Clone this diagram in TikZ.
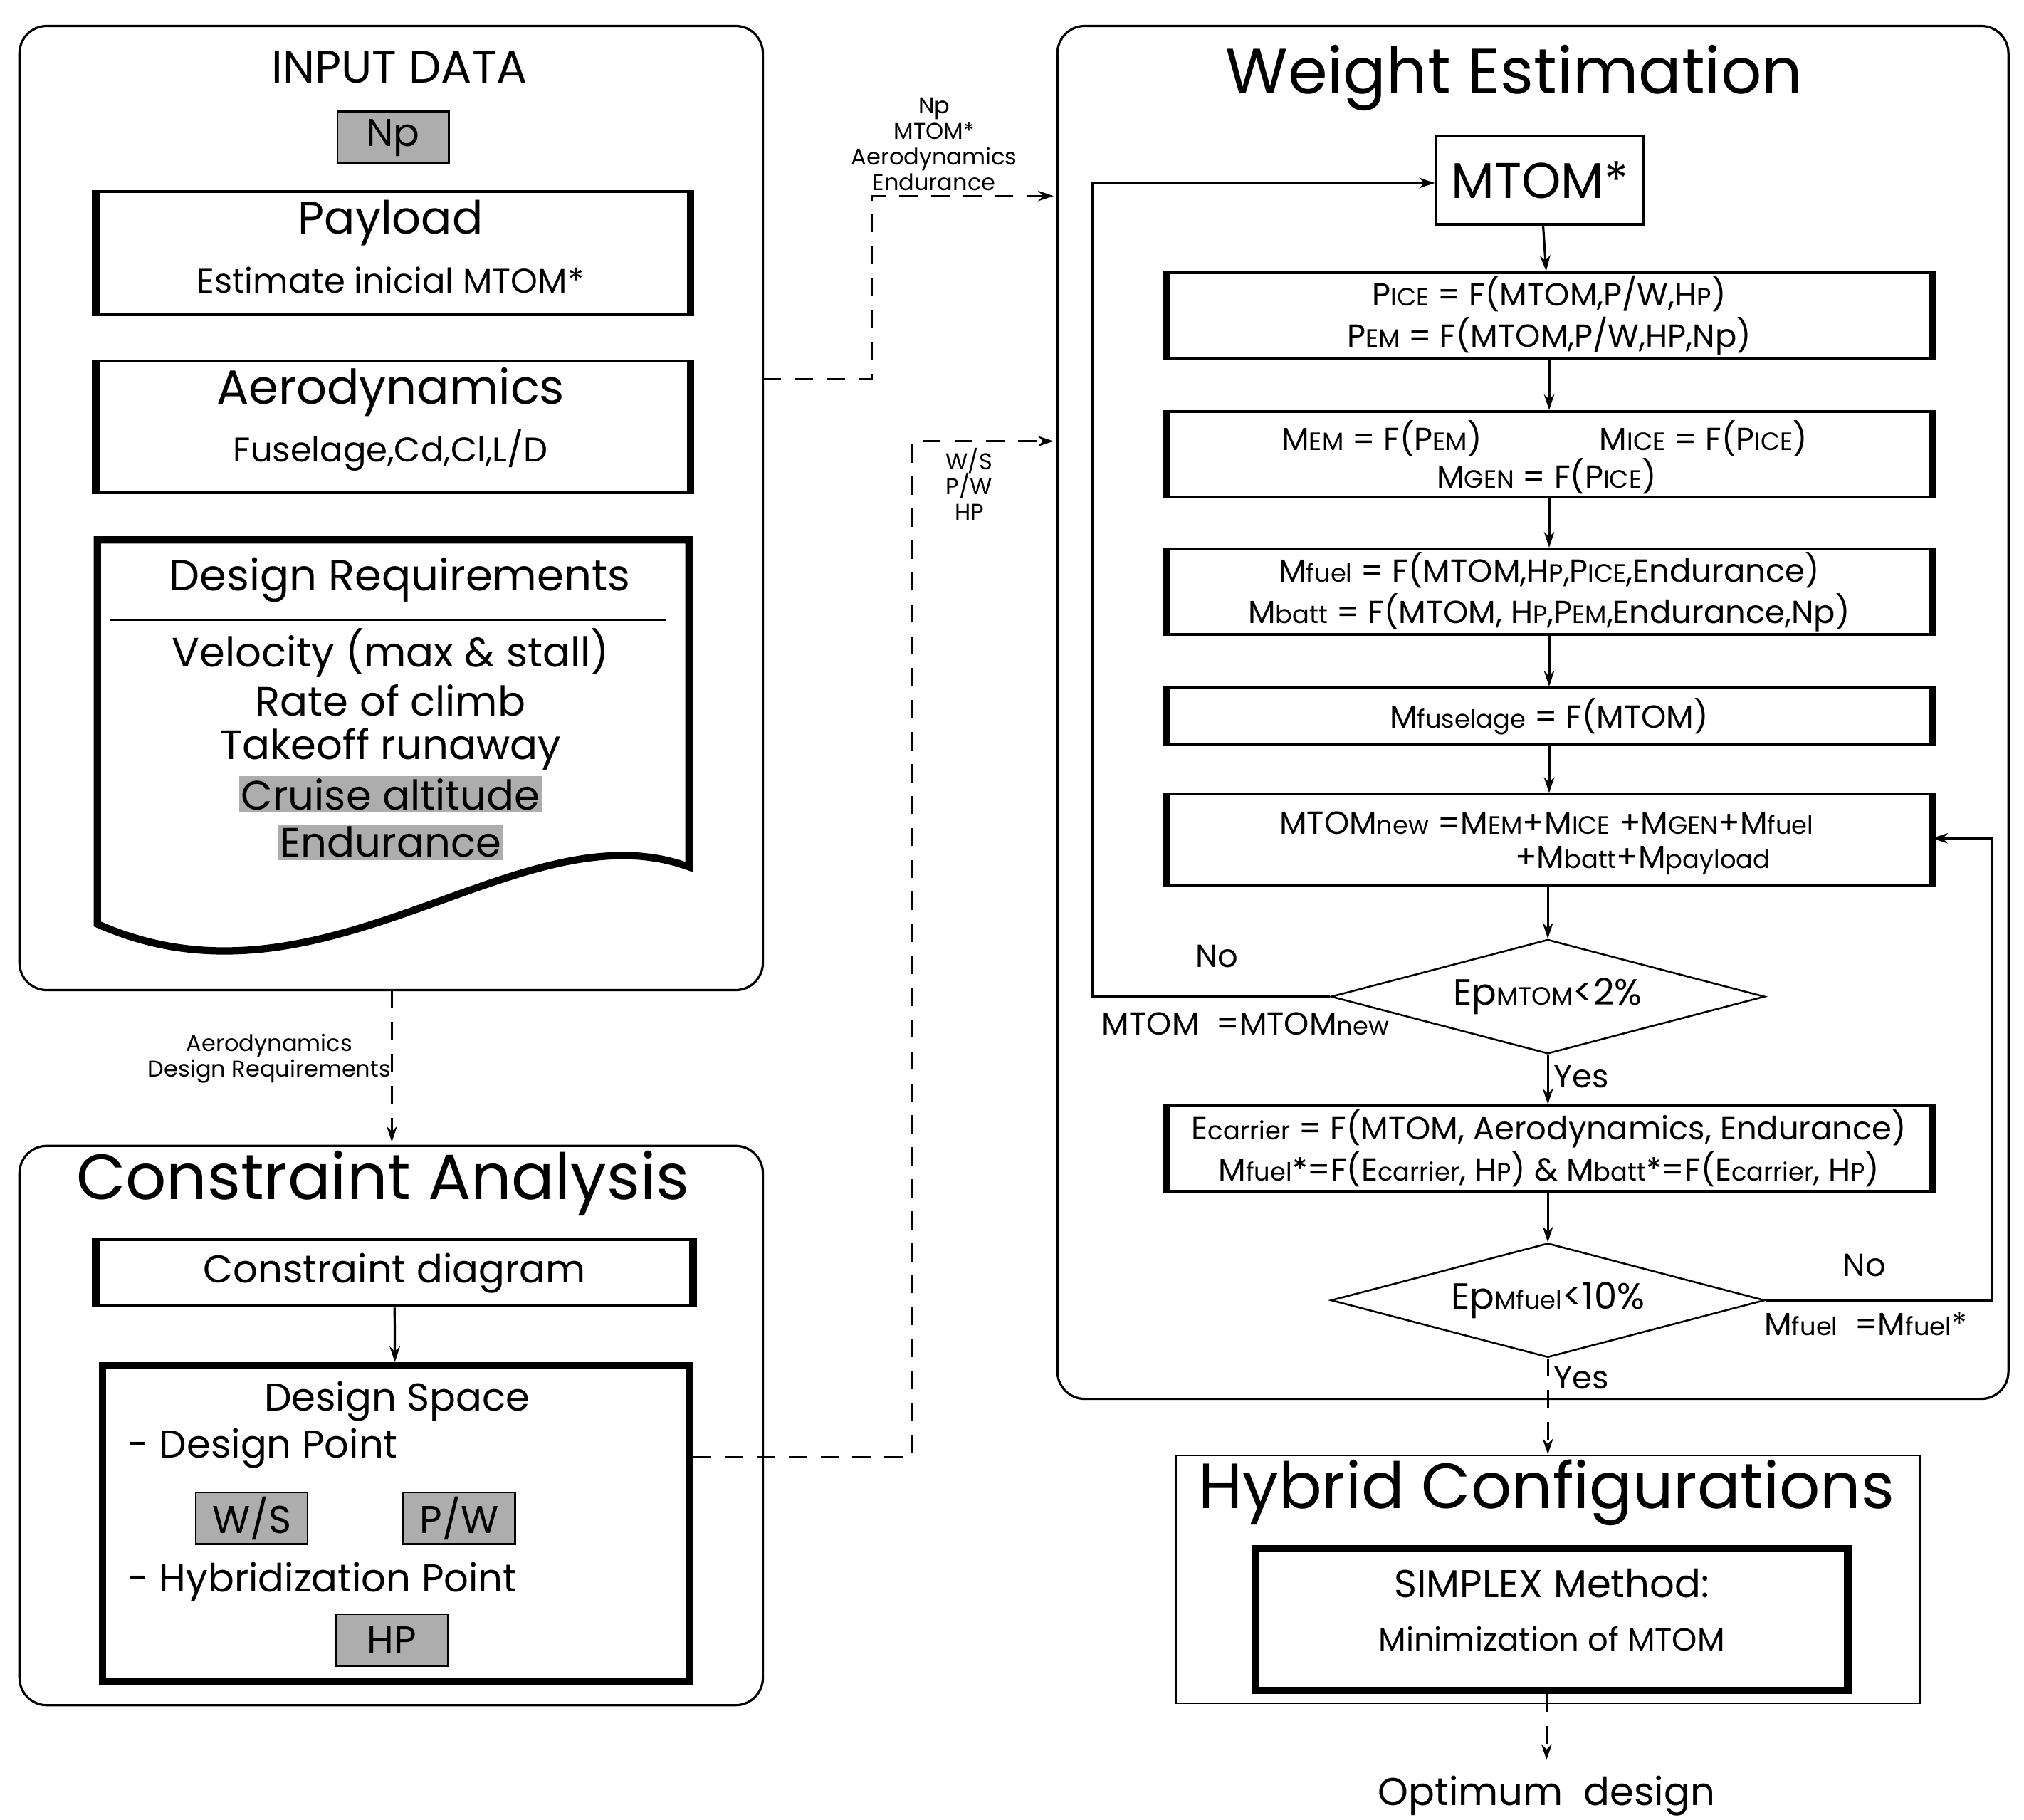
\documentclass[tikz,border=0pt]{standalone}
\usepackage{fontspec}
\setmainfont{Poppins}
\usetikzlibrary{arrows.meta}
\usetikzlibrary{shapes.geometric}
\definecolor{hlgray}{gray}{0.68}
\newcommand{\lo}[1]{{\fontsize{5.5pt}{6pt}\selectfont #1}}
\tikzset{
  panel/.style={draw,rounded corners=6pt,line width=0.5pt},
  sidebox/.style={draw,line width=0.6pt,minimum width=5.88cm,align=center,inner sep=0pt,font=\fontsize{7pt}{9pt}\selectfont},
  graybox/.style={draw,fill=hlgray,minimum width=0.86cm,minimum height=0.4cm,inner sep=0pt,font=\fontsize{8.5pt}{10pt}\selectfont},
  decide/.style={draw,diamond,aspect=3.8,minimum width=3.34cm,minimum height=0.88cm,inner sep=0pt,font=\fontsize{8pt}{9pt}\selectfont},
  flow/.style={-{Stealth[length=1.2mm,width=0.8mm]},line width=0.5pt},
  dflow/.style={flow,dash pattern=on 4pt off 3pt},
  lbl/.style={font=\fontsize{7pt}{8pt}\selectfont,inner sep=1pt},
  tiny/.style={font=\fontsize{5pt}{5.6pt}\selectfont,align=center,inner sep=0pt}
}
\begin{document}
\begin{tikzpicture}[x=0.01cm,y=-0.01cm]
\useasboundingbox (0,0) rectangle (1560,1402);
% input data panel
\draw[panel] (15,20) rectangle (588,763);
\node[font=\fontsize{10pt}{11pt}\selectfont] (intitle) at (308,52) {INPUT DATA};
\node[graybox] (np) at (303,106) {Np};
\node[sidebox,minimum width=4.56cm,minimum height=0.95cm] (payload) at (303,195) {};
\node[font=\fontsize{10pt}{11pt}\selectfont] (paytitle) at (301,172) {Payload};
\node[lbl,font=\fontsize{7.5pt}{9pt}\selectfont] (paytext) at (301,216) {Estimate inicial MTOM*};
\node[sidebox,minimum width=4.56cm,minimum height=1.01cm] (aero) at (303,329) {};
\node[font=\fontsize{10.5pt}{12pt}\selectfont] (aerotitle) at (301,302) {Aerodynamics};
\node[lbl,font=\fontsize{7.5pt}{9pt}\selectfont] (aerotext) at (301,347) {Fuselage,Cd,Cl,L/D};
\draw[line width=1.6pt] (75,416) -- (531,416) -- (531,668) .. controls (400,620) and (250,790) .. (75,712) -- cycle;
\node[font=\fontsize{9.5pt}{11pt}\selectfont] (reqtitle) at (308,447) {Design Requirements};
\draw[line width=0.4pt] (85,478) -- (513,478);
\begin{scope}[every node/.style={font=\fontsize{9pt}{10pt}\selectfont,inner sep=0.5pt}]
\node (req1) at (301,503) {Velocity (max \& stall)};
\node (req2) at (301,540) {Rate of climb};
\node (req3) at (301,577) {Takeoff runaway};
\node[fill=hlgray] (req4) at (301,612) {Cruise altitude};
\node[fill=hlgray] (req5) at (301,649) {Endurance};
\end{scope}
% constraint analysis panel
\draw[panel] (15,883) rectangle (588,1314);
\node[font=\fontsize{14pt}{16pt}\selectfont] (catitle) at (295,912) {Constraint Analysis};
\node[sidebox,minimum width=4.58cm,minimum height=0.51cm,font=\fontsize{8.5pt}{10pt}\selectfont] (cdiag) at (304,981) {Constraint diagram};
\node[draw,line width=1.6pt,minimum width=4.52cm,minimum height=2.43cm] (space) at (305,1174) {};
\node[font=\fontsize{8.5pt}{10pt}\selectfont] (sptitle) at (306,1080) {Design Space};
\node[font=\fontsize{8.5pt}{10pt}\selectfont,anchor=west] (dpoint) at (86,1116) {- Design Point};
\node[graybox] (ws) at (194,1170) {W/S};
\node[graybox] (pw) at (354,1170) {P/W};
\node[font=\fontsize{8.5pt}{10pt}\selectfont,anchor=west] (hpoint) at (86,1219) {- Hybridization Point};
\node[graybox] (hp) at (302,1264) {HP};
\draw[flow] (cdiag) -- (space);
% weight estimation panel
\draw[panel] (815,20) rectangle (1548,1078);
\node[font=\fontsize{14pt}{16pt}\selectfont] (wetitle) at (1167,60) {Weight Estimation};
\node[draw,line width=0.6pt,minimum width=1.5cm,minimum height=0.68cm,font=\fontsize{11pt}{12pt}\selectfont] (mtom) at (1187,139) {MTOM*};
\node[sidebox,minimum height=0.66cm] (pwr) at (1194,243) {P\lo{ICE} = F(MTOM,P/W,H\lo{P})\\P\lo{EM} = F(MTOM,P/W,HP,Np)};
\node[sidebox,minimum height=0.66cm] (mass) at (1194,350) {};
\node[lbl] (mem) at (1065,338) {M\lo{EM} = F(P\lo{EM})};
\node[lbl] (mice) at (1313,338) {M\lo{ICE} = F(P\lo{ICE})};
\node[lbl] (mgen) at (1192,367) {M\lo{GEN} = F(P\lo{ICE})};
\node[sidebox,minimum height=0.66cm] (fuel) at (1194,456) {M\lo{fuel} = F(MTOM,H\lo{P},P\lo{ICE},Endurance)\\M\lo{batt} = F(MTOM, H\lo{P},P\lo{EM},Endurance,Np)};
\node[sidebox,minimum height=0.44cm] (fus) at (1194,552) {M\lo{fuselage} = F(MTOM)};
\node[sidebox,minimum height=0.7cm] (sum) at (1194,647) {};
\node[lbl] (sum1) at (1192,634) {MTOM\lo{new} =M\lo{EM}+M\lo{ICE} +M\lo{GEN}+M\lo{fuel}};
\node[lbl] (sum2) at (1266,663) {+M\lo{batt}+M\lo{payload}};
\node[decide] (epm) at (1193,768) {Ep\lo{MTOM}<2\%};
\node[sidebox,minimum height=0.66cm] (carrier) at (1194,885) {E\lo{carrier} = F(MTOM, Aerodynamics, Endurance)\\M\lo{fuel}*=F(E\lo{carrier}, H\lo{P}) \& M\lo{batt}*=F(E\lo{carrier}, H\lo{P})};
\node[decide] (epf) at (1193,1002) {Ep\lo{Mfuel}<10\%};
\foreach \n in {payload,aero,cdiag,pwr,mass,fuel,fus,sum,carrier}
  \draw[line width=1.6pt] (\n.north west) -- (\n.south west) (\n.north east) -- (\n.south east);
\draw[flow] (mtom) -- (pwr);
\draw[flow] (pwr) -- (mass);
\draw[flow] (mass) -- (fuel);
\draw[flow] (fuel) -- (fus);
\draw[flow] (fus) -- (sum);
\draw[flow] (sum.south -| epm) -- (epm);
\draw[flow] (epm) -- node[lbl,right,pos=0.45] {Yes} (carrier.north -| epm);
\draw[flow] (carrier.south -| epf) -- (epf);
\coordinate (loopa) at (842,768);
\coordinate (loopb) at (842,141);
\draw[flow] (epm.west) -- (loopa) -- (loopb) -- (mtom.west |- loopb);
\node[lbl] (no1) at (938,737) {No};
\node[lbl] (set1) at (960,789) {MTOM~~=MTOM\lo{new}};
\coordinate (loopc) at (1535,1002);
\coordinate (loopd) at (1535,646);
\draw[flow] (epf.east) -- (loopc) -- (loopd) -- (sum.east |- loopd);
\node[lbl] (no2) at (1437,975) {No};
\node[lbl] (set2) at (1438,1020) {M\lo{fuel}~~=M\lo{fuel}*};
% hybrid configurations
\node[draw,line width=0.4pt,minimum width=5.73cm,minimum height=1.91cm] (hybrid) at (1193,1217) {};
\node[font=\fontsize{14pt}{16pt}\selectfont] (hytitle) at (1192,1150) {Hybrid Configurations};
\node[draw,line width=1.6pt,minimum width=4.56cm,minimum height=1.09cm] (simplex) at (1196,1248) {};
\node[font=\fontsize{8.5pt}{10pt}\selectfont] (simtitle) at (1196,1220) {SIMPLEX Method:};
\node[lbl] (simtext) at (1196,1263) {Minimization of MTOM};
\node[font=\fontsize{8.5pt}{10pt}\selectfont] (optimum) at (1192,1384) {Optimum~~design};
\draw[dflow] (epf.south) -- node[lbl,right,pos=0.2] {Yes} (epf.south |- hybrid.north);
\draw[dflow] (simplex.south -| optimum) -- (optimum.north);
% data links
\draw[dflow] (302,763) -- node[tiny,left,pos=0.45] {Aerodynamics\\Design Requirements} (302,880);
\coordinate (linka) at (672,292);
\coordinate (linkb) at (672,151);
\draw[dflow] (588,292) -- (linka) -- (linkb) -- (812,151);
\node[tiny] (lbla) at (720,111) {Np\\MTOM*\\Aerodynamics\\Endurance};
\coordinate (linkc) at (703,1123);
\coordinate (linkd) at (703,340);
\draw[dflow] (space.east |- linkc) -- (linkc) -- (linkd) -- (812,340);
\node[tiny] (lblb) at (747,373) {W/S\\P/W\\HP};
\end{tikzpicture}
\end{document}
